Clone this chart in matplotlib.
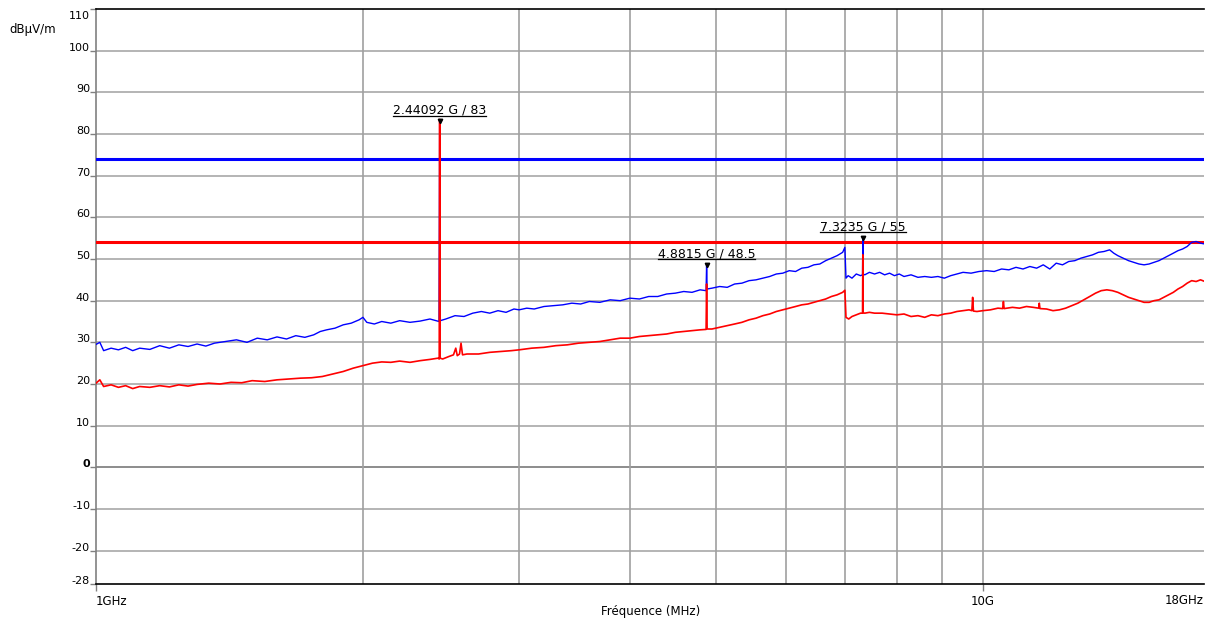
import matplotlib
matplotlib.use("Agg")
import matplotlib.pyplot as plt
from matplotlib.lines import Line2D
import matplotlib.transforms as mtransforms

plt.rcParams['font.family'] = ['DejaVu Sans']

# ---------------- data (frequency in GHz, level in dBµV/m) ----------------
peak_freq = [1.00, 1.01, 1.02, 1.04, 1.06, 1.08, 1.10, 1.12, 1.15, 1.18, 1.21, 1.24, 1.27,
             1.30, 1.33, 1.36, 1.40, 1.44, 1.48, 1.52, 1.56, 1.60, 1.64, 1.68, 1.72, 1.76,
             1.79, 1.82, 1.86, 1.90, 1.94, 1.98, 2.00, 2.02, 2.06, 2.10, 2.15, 2.20, 2.26,
             2.32, 2.38, 2.437, 2.44092, 2.445, 2.48, 2.54, 2.60, 2.66, 2.72, 2.78, 2.84,
             2.90, 2.96, 3.00, 3.06, 3.12, 3.20, 3.28, 3.36, 3.44, 3.52, 3.60, 3.70, 3.80,
             3.90, 4.00, 4.10, 4.20, 4.30, 4.40, 4.50, 4.60, 4.70, 4.80, 4.875, 4.8815,
             4.888, 4.95, 5.05, 5.15, 5.25, 5.35, 5.45, 5.55, 5.65, 5.75, 5.85, 5.95, 6.05,
             6.15, 6.25, 6.35, 6.45, 6.55, 6.65, 6.75, 6.85, 6.95, 6.99, 7.01, 7.05, 7.12,
             7.20, 7.28, 7.318, 7.3235, 7.329, 7.36, 7.45, 7.55, 7.65, 7.75, 7.85, 7.95,
             8.05, 8.15, 8.30, 8.45, 8.60, 8.75, 8.90, 9.05, 9.20, 9.35, 9.50, 9.70, 9.90,
             10.1, 10.3, 10.5, 10.7, 10.9, 11.1, 11.3, 11.5, 11.7, 11.9, 12.1, 12.3, 12.5,
             12.7, 12.9, 13.1, 13.3, 13.5, 13.7, 13.9, 14.05, 14.2, 14.4, 14.6, 14.8, 15.0,
             15.2, 15.4, 15.6, 15.8, 16.0, 16.2, 16.4, 16.6, 16.8, 17.0, 17.2, 17.4, 17.6,
             17.8, 18.0]
peak_level = [29.5, 30.0, 28.0, 28.6, 28.2, 28.8, 28.0, 28.6, 28.3, 29.2, 28.6, 29.4, 29.0,
              29.6, 29.1, 29.8, 30.2, 30.6, 30.0, 31.0, 30.6, 31.3, 30.8, 31.6, 31.2, 31.8,
              32.6, 33.0, 33.4, 34.2, 34.6, 35.4, 36.0, 34.8, 34.4, 35.0, 34.6, 35.2, 34.8,
              35.1, 35.6, 35.0, 83.0, 35.2, 35.6, 36.4, 36.2, 37.0, 37.4, 37.0, 37.6,
              37.2, 38.0, 37.8, 38.2, 38.0, 38.6, 38.8, 39.0, 39.4, 39.2, 39.8, 39.6, 40.2,
              40.0, 40.6, 40.4, 41.0, 41.0, 41.6, 41.8, 42.2, 42.0, 42.6, 42.4, 48.5,
              42.8, 43.0, 43.4, 43.2, 44.0, 44.2, 44.8, 45.0, 45.4, 45.8, 46.4, 46.6, 47.2,
              47.0, 47.8, 48.0, 48.6, 48.8, 49.6, 50.2, 50.8, 51.6, 52.8, 45.4, 46.0, 45.4,
              46.4, 46.0, 46.2, 55.0, 46.4, 46.2, 46.8, 46.4, 46.8, 46.2, 46.6, 46.0,
              46.4, 45.8, 46.2, 45.6, 45.8, 45.6, 45.8, 45.4, 46.0, 46.4, 46.8, 46.6, 47.0,
              47.2, 47.0, 47.6, 47.4, 48.0, 47.6, 48.2, 47.8, 48.6, 47.6, 49.0, 48.6, 49.4,
              49.6, 50.2, 50.6, 51.0, 51.6, 51.8, 52.2, 51.4, 50.8, 50.2, 49.6, 49.2, 48.8,
              48.6, 48.8, 49.2, 49.6, 50.2, 50.8, 51.4, 52.0, 52.4, 53.0, 54.0, 54.2, 53.8,
              53.6, 53.4]

avg_freq = [1.00, 1.01, 1.02, 1.04, 1.06, 1.08, 1.10, 1.12, 1.15, 1.18, 1.21, 1.24, 1.27,
            1.30, 1.34, 1.38, 1.42, 1.46, 1.50, 1.55, 1.60, 1.65, 1.70, 1.75, 1.80, 1.85,
            1.90, 1.95, 2.00, 2.05, 2.10, 2.15, 2.20, 2.26, 2.32, 2.38, 2.43, 2.438,
            2.44092, 2.4435, 2.46, 2.50, 2.53, 2.545, 2.555, 2.57, 2.58, 2.59, 2.62, 2.70,
            2.78, 2.86, 2.94, 3.00, 3.10, 3.20, 3.30, 3.40, 3.50, 3.60, 3.70, 3.80, 3.90,
            4.00, 4.10, 4.20, 4.30, 4.40, 4.50, 4.60, 4.70, 4.80, 4.875, 4.8815, 4.888,
            4.95, 5.05, 5.15, 5.25, 5.35, 5.45, 5.55, 5.65, 5.75, 5.85, 5.95, 6.05, 6.15,
            6.25, 6.35, 6.45, 6.55, 6.65, 6.75, 6.85, 6.95, 6.99, 7.01, 7.06, 7.12, 7.20,
            7.28, 7.318, 7.3235, 7.329, 7.36, 7.45, 7.55, 7.70, 7.85, 8.00, 8.15, 8.30,
            8.45, 8.60, 8.75, 8.90, 9.05, 9.20, 9.35, 9.50, 9.65, 9.72, 9.74, 9.76, 9.85,
            10.0, 10.2, 10.4, 10.53, 10.55, 10.57, 10.8, 11.0, 11.2, 11.4, 11.56, 11.58,
            11.60, 11.8, 12.0, 12.2, 12.4, 12.6, 12.8, 13.0, 13.2, 13.4, 13.6, 13.8, 14.0,
            14.2, 14.4, 14.6, 14.8, 15.0, 15.2, 15.4, 15.6, 15.8, 16.0, 16.2, 16.4, 16.6,
            16.8, 17.0, 17.2, 17.4, 17.6, 17.8, 18.0]
avg_level = [20.2, 21.0, 19.4, 19.8, 19.2, 19.6, 18.9, 19.4, 19.2, 19.6, 19.3, 19.8, 19.5,
             19.9, 20.2, 20.0, 20.4, 20.3, 20.8, 20.6, 21.0, 21.2, 21.4, 21.5, 21.8, 22.4,
             23.0, 23.8, 24.4, 25.0, 25.3, 25.2, 25.5, 25.2, 25.6, 25.9, 26.2, 26.0,
             83.5, 26.2, 26.0, 26.6, 27.0, 28.6, 26.8, 27.2, 29.8, 27.0, 27.2, 27.2,
             27.6, 27.8, 28.0, 28.2, 28.6, 28.8, 29.2, 29.4, 29.8, 30.0, 30.2, 30.6, 31.0,
             31.0, 31.4, 31.6, 31.8, 32.0, 32.4, 32.6, 32.8, 33.0, 33.1, 44.0, 33.2,
             33.2, 33.6, 34.0, 34.4, 34.8, 35.4, 35.8, 36.4, 36.8, 37.4, 37.8, 38.2, 38.6,
             39.0, 39.2, 39.6, 40.0, 40.4, 41.0, 41.4, 42.0, 42.5, 36.0, 35.6, 36.2, 36.6,
             37.0, 37.0, 51.0, 37.1, 37.0, 37.2, 37.0, 37.0, 36.8, 36.6, 36.8, 36.2,
             36.4, 36.0, 36.6, 36.4, 36.8, 37.0, 37.4, 37.6, 37.8, 37.6, 40.8, 37.5, 37.4,
             37.6, 37.8, 38.2, 38.1, 39.8, 38.1, 38.4, 38.2, 38.6, 38.4, 38.2, 39.4,
             38.1, 38.0, 37.6, 37.8, 38.2, 38.8, 39.4, 40.2, 41.0, 41.8, 42.4, 42.6, 42.4,
             42.0, 41.4, 40.8, 40.4, 40.0, 39.6, 39.6, 40.0, 40.2, 40.8, 41.4, 42.0, 42.8,
             43.4, 44.2, 44.8, 44.6, 45.0, 44.6, 44.2]

limit_peak = 74
limit_avg = 54

marker_freq = [2.44092, 4.8815, 7.3235]
marker_level = [83, 48.5, 55]
marker_text = ["2.44092 G / 83", "4.8815 G / 48.5", "7.3235 G / 55"]

y_ticks = [-28, -20, -10, 0, 10, 20, 30, 40, 50, 60, 70, 80, 90, 100, 110]
v_grid = [2, 3, 4, 5, 6, 7, 8, 9, 10]

# ---------------- figure ----------------
W, H = 1206, 618
fig = plt.figure(figsize=(W / 100, H / 100), dpi=100)
ax = fig.add_axes([96 / W, 1 - 584 / H, (1204 - 96) / W, (584 - 9) / H])

ax.set_xscale('log')
ax.set_xlim(1.0, 17.76)
ax.set_ylim(-28, 110)

# grid
for yv in y_ticks:
    if -28 < yv < 110:
        ax.axhline(yv, color='#b4b4b4' if yv != 0 else '#8c8c8c', lw=1.4, zorder=1)
for xv in v_grid:
    ax.axvline(xv, color='#a0a0a0', lw=1.2, zorder=1)

# limit lines
ax.axhline(limit_peak, color='#0000ff', lw=2.2, zorder=3)
ax.axhline(limit_avg, color='#ff0000', lw=2.2, zorder=3)

# traces
ax.plot(peak_freq, peak_level, color='#0000ff', lw=1.0, zorder=4)
ax.plot(avg_freq, avg_level, color='#ff0000', lw=1.2, zorder=5)

# markers
ax.plot(marker_freq, marker_level, linestyle='none', marker='v', color='black',
        markersize=3.2, zorder=6)
texts = []
for f, lv, t in zip(marker_freq, marker_level, marker_text):
    tx = ax.annotate(t, xy=(f, lv), xytext=(0, 3.5), textcoords='offset points',
                     ha='center', va='bottom', fontsize=9, color='black', zorder=7)
    texts.append(tx)

# spines
ax.spines['right'].set_visible(False)
ax.spines['top'].set_color('black')
ax.spines['bottom'].set_color('black')
ax.spines['left'].set_color('#808080')
for s in ax.spines.values():
    s.set_linewidth(1.2)

# ticks (labels drawn separately so they sit slightly above their line)
ax.set_yticks(y_ticks)
ax.set_yticklabels([])
ax.tick_params(axis='y', direction='out', length=4, width=1, color='#808080')
ax.minorticks_off()
ylab_trans = ax.get_yaxis_transform()
for v in y_ticks:
    dy = -7 if v == 110 else 3
    ax.annotate(str(v), xy=(0, v), xycoords=ylab_trans, xytext=(-6, dy),
                textcoords='offset pixels', ha='right', va='center', fontsize=8,
                fontweight='bold' if v == 0 else 'normal', annotation_clip=False)

ax.set_xticks([1, 10])
ax.set_xticklabels(['1GHz', '10G'])
ax.tick_params(axis='x', direction='out', length=5, width=1, color='#808080',
               labelsize=8.5, pad=3)
ax.get_xticklabels()[0].set_horizontalalignment('left')
ax.text(1.0, -0.017, '18GHz', transform=ax.transAxes, ha='right', va='top', fontsize=8.5)

fig.text(9 / W, 1 - 30 / H, 'dBµV/m', fontsize=8.5, ha='left', va='center')
fig.text(651 / W, 1 - 612 / H, 'Fréquence (MHz)', fontsize=8.5, ha='center', va='center')

# underline marker labels
fig.canvas.draw()
r = fig.canvas.get_renderer()
for tx in texts:
    bb = tx.get_window_extent(renderer=r)
    yline = bb.y0 + 1
    fig.add_artist(Line2D([bb.x0 / W, bb.x1 / W], [yline / H, yline / H],
                          transform=fig.transFigure, color='black', lw=0.9))

fig.savefig('out.png', dpi=100)
